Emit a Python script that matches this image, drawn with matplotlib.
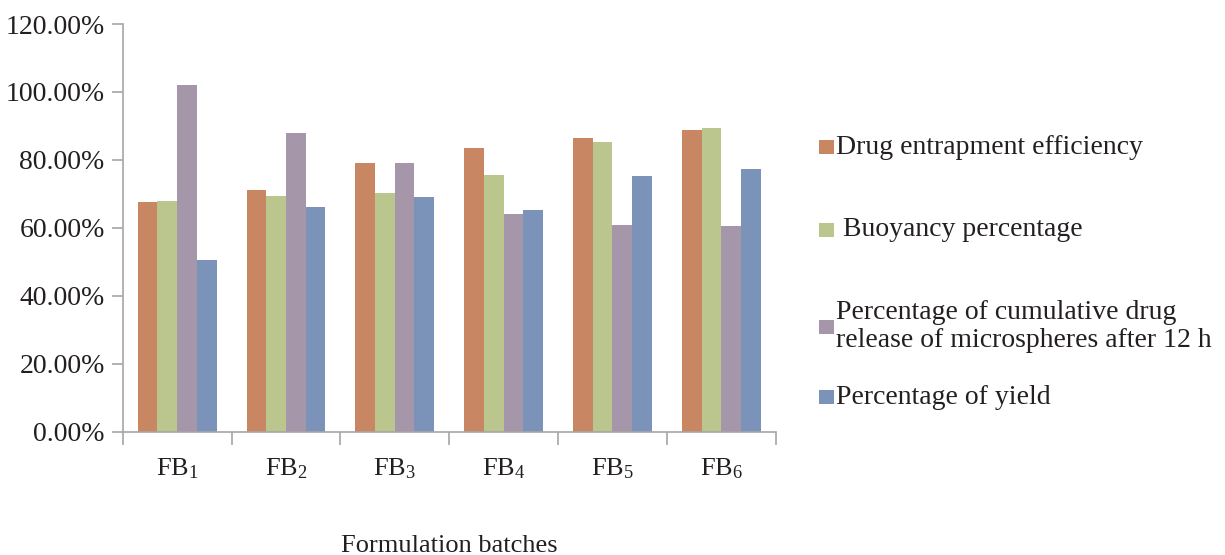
import matplotlib
matplotlib.use("Agg")
import matplotlib.pyplot as plt
import numpy as np
from matplotlib.patches import Rectangle
from matplotlib.ticker import FuncFormatter, MultipleLocator

plt.rcParams['font.family'] = ['Liberation Serif', 'DejaVu Serif']
plt.rcParams['mathtext.fontset'] = 'custom'
plt.rcParams['mathtext.rm'] = 'Liberation Serif'

batches = ["1", "2", "3", "4", "5", "6"]
entrapment = [67.5, 71.1, 79.2, 83.5, 86.5, 88.8]
buoyancy = [67.9, 69.5, 70.2, 75.7, 85.3, 89.5]
release_12h = [101.9, 88.0, 79.1, 64.0, 60.8, 60.5]
yield_pct = [50.5, 66.1, 69.2, 65.3, 75.4, 77.2]

series_labels = [
    "Drug entrapment efficiency",
    " Buoyancy percentage",
    "Percentage of cumulative drug\nrelease of microspheres after 12 h",
    "Percentage of yield",
]
colors = ["#C98663", "#BBC68E", "#A596AA", "#7B93B8"]
series = [entrapment, buoyancy, release_12h, yield_pct]

W, H = 1225, 555
fig = plt.figure(figsize=(W / 100, H / 100), dpi=100)
ax = fig.add_axes([122.7 / W, 1 - 431.7 / H, (775.7 - 122.7) / W, (431.7 - 24) / H])

x = np.arange(len(batches))
bw = 0.181
for i, (vals, c) in enumerate(zip(series, colors)):
    ax.bar(x + (i - 1.5) * bw, vals, width=bw, color=c, edgecolor='none')

ax.set_xlim(-0.5, len(batches) - 0.5)
ax.set_ylim(0, 120)
ax.yaxis.set_major_locator(MultipleLocator(20))
ax.yaxis.set_major_formatter(FuncFormatter(lambda v, p: f"{v:.2f}%"))

for s in ['top', 'right']:
    ax.spines[s].set_visible(False)
for s in ['left', 'bottom']:
    ax.spines[s].set_color('#A6A6A6')
    ax.spines[s].set_linewidth(1.2)

ax.set_xticks(np.arange(len(batches) + 1) - 0.5, minor=False)
ax.set_xticklabels([])
ax.tick_params(axis='x', which='major', length=9, color='#A6A6A6', width=1.2)
ax.set_xticks(x, minor=True)
ax.set_xticklabels([r"FB$\mathregular{_{%s}}$" % b for b in batches], minor=True,
                   fontsize=19, color='#231F20')
ax.tick_params(axis='x', which='minor', length=0, pad=18)
ax.tick_params(axis='y', length=8, color='#A6A6A6', width=1.2, labelsize=20,
               labelcolor='#231F20', pad=5)

fig.text(449 / W, 1 - 552 / H, "Formulation batches", ha='center', va='baseline',
         fontsize=19, color='#231F20')

# legend drawn as squares + text at the right
leg_y = [147, 230, 326.5, 397]
for c, lab, yy in zip(colors, series_labels, leg_y):
    fig.patches.append(Rectangle(((819) / W, 1 - (yy + 7) / H), 15 / W, 14 / H,
                                 transform=fig.transFigure, color=c, ec='none'))
    fig.text(836 / W, 1 - yy / H, lab, ha='left', va='center', fontsize=20,
             color='#231F20', linespacing=1.2)

fig.savefig("out.png", dpi=100)
